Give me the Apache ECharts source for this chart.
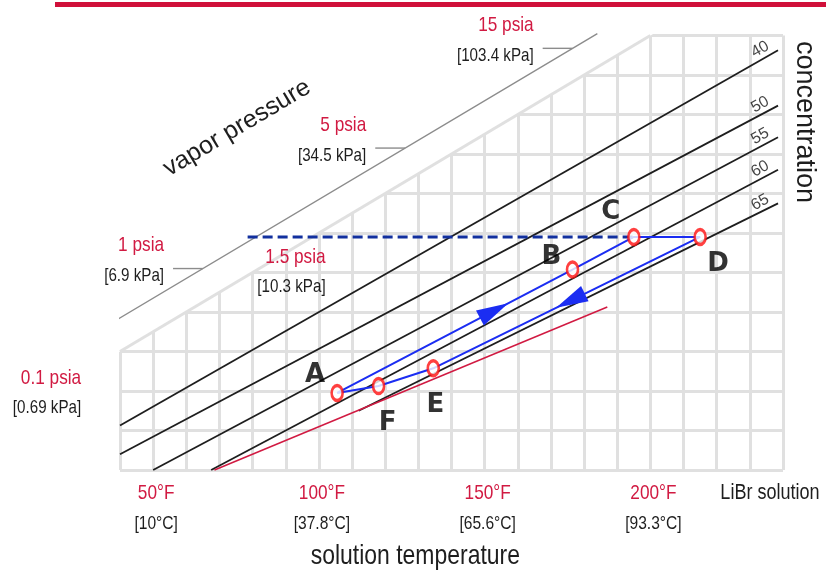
<!DOCTYPE html>
<html>
<head>
<meta charset="utf-8">
<script src="https://cdn.jsdelivr.net/npm/echarts@6/dist/echarts.min.js"></script>
<style>
  html, body { margin: 0; padding: 0; background: #fff; }
  #chart { width: 826px; height: 575px; }
</style>
</head>
<body>
<div id="chart"></div>
<script>
// Solution temperature axis (°F) with Celsius equivalents
const tempTicks = [50, 100, 150, 200];
const tempLabelsF = ['50°F', '100°F', '150°F', '200°F'];
const tempLabelsC = ['[10°C]', '[37.8°C]', '[65.6°C]', '[93.3°C]'];

// Vapor pressure scale, placed at the matching saturation temperature (°F)
const pressurePsia = ['0.1 psia', '1 psia', '5 psia', '15 psia'];
const pressureKpa = ['[0.69 kPa]', '[6.9 kPa]', '[34.5 kPa]', '[103.4 kPa]'];
const pressureSatF = [35, 102, 163, 213.5];

// Generator pressure level
const genPsia = '1.5 psia';
const genKpa = '[10.3 kPa]';
const genSatF = 118;

// Concentration lines (% LiBr): [solution °F, saturation °F] end points
const concNames = ['40', '50', '55', '60', '65'];
const concStart = [[40, 22.5], [40, 8], [50, 0], [67.5, 0], [112, 30]];
const concEnd = [[238.5, 212.5], [238.5, 184.5], [238.5, 168.5], [238.5, 152], [238.5, 135]];

// Crystallization limit
const crystLine = [[68.5, 0], [187, 82.5]];

// Absorption cycle state points
const cycleNames = ['A', 'B', 'C', 'D', 'E', 'F'];
const cycleX = [105.5, 176.5, 195, 215, 134.5, 118];
const cycleY = [39, 101.5, 118, 118, 51.5, 42.5];

// Flow direction arrows: [from point, to point, position along the leg]
const flowArrows = [[0, 1, 0.667], [3, 4, 0.486]];

// ---- drawing ----
const RED = '#d11a42';
const INK = '#1e1e1e';
const BLUE = '#1b2df2';
const NAVY = '#12309e';
const GRIDC = '#e0e0e0';
const SANS = "'Liberation Sans', Arial, sans-serif";
const CONDENSE = 0.82;   // horizontal squeeze for the narrow label face

// Vapor pressure frame: vertical foot, then a 45° rise (in axis units)
const frameX = 34, frameFoot = 1.5, frameKnee = 71, frameTopY = 221;
const frameXAt = y => (y <= frameKnee ? frameX : y - (frameKnee - frameX));
const tickLenAt = y => (y <= frameKnee ? 3 : 9);
// Grid is cut off above the line sat = sol + gridCut
const gridCut = 20;

const pt = i => [cycleX[i], cycleY[i]];
const cyclePath = cycleNames.map((_, i) => pt(i)).concat([pt(0)]);

const labelShift = { A: [-22, -18], B: [-21, -12], C: [-23, -25], D: [18, 27], E: [2, 37], F: [9, 37] };

const lineSeries = (data, style, z) => ({
  type: 'line', data, symbol: 'none', silent: true, clip: false,
  lineStyle: style, z: z || 3, animation: false
});

const series = [];

// white mask that trims the grid's upper-left corner
series.push({
  type: 'custom', coordinateSystem: 'cartesian2d', clip: false, silent: true, z: 1,
  data: [0],
  renderItem: (params, api) => {
    const pts = [[36, 36 + gridCut], [206, 206 + gridCut], [36, 206 + gridCut]].map(p => api.coord(p));
    return { type: 'polygon', shape: { points: pts }, style: { fill: '#fff' } };
  }
});
// trimmed edge of the grid
series.push(lineSeries([[40, 40 + gridCut], [200, 200 + gridCut]], { color: GRIDC, width: 3 }, 2));

// concentration lines
concNames.forEach((n, i) => {
  series.push(lineSeries([concStart[i], concEnd[i]], { color: INK, width: 1.8 }, 3));
});
// crystallization line
series.push(lineSeries(crystLine, { color: RED, width: 1.5 }, 3));

// vapor pressure frame and its ticks
series.push(lineSeries([[frameX, frameFoot], [frameX, frameKnee], [frameTopY - (frameKnee - frameX), frameTopY]],
  { color: '#8c8c8c', width: 1.4 }, 3));
pressureSatF.forEach(s => {
  const x1 = frameXAt(s);
  series.push(lineSeries([[x1 - tickLenAt(s), s], [x1, s]], { color: '#8c8c8c', width: 1.4 }, 3));
});

// generator pressure (dashed)
const genStart = [frameXAt(genSatF) - 2.5, genSatF];
series.push(lineSeries([genStart, pt(2)], { color: NAVY, width: 3, type: [10, 5] }, 4));

// cycle path
series.push(lineSeries(cyclePath, { color: BLUE, width: 2 }, 5));

// flow arrows
series.push({
  type: 'custom', coordinateSystem: 'cartesian2d', clip: false, silent: true, z: 6,
  data: flowArrows.map((_, i) => i),
  renderItem: (params, api) => {
    const a = flowArrows[params.dataIndex];
    const p0 = api.coord(pt(a[0])), p1 = api.coord(pt(a[1]));
    const dx = p1[0] - p0[0], dy = p1[1] - p0[1];
    const len = Math.hypot(dx, dy), ux = dx / len, uy = dy / len;
    const cx = p0[0] + dx * a[2], cy = p0[1] + dy * a[2];
    const L = 32, W = 17;
    const bx = cx - ux * L / 2, by = cy - uy * L / 2;
    const nx = -uy, ny = ux;
    return {
      type: 'polygon',
      shape: { points: [[cx + ux * L / 2, cy + uy * L / 2], [bx + nx * W / 2, by + ny * W / 2], [bx - nx * W / 2, by - ny * W / 2]] },
      style: { fill: BLUE }
    };
  }
});

// state point markers
series.push({
  type: 'scatter', silent: true, z: 7, animation: false,
  symbol: 'circle', symbolSize: [11, 15],
  itemStyle: { color: '#fff', borderColor: '#ff1010', borderWidth: 3 },
  data: cycleNames.map((n, i) => pt(i))
});
// state point letters
series.push({
  type: 'scatter', silent: true, z: 8, animation: false, symbolSize: 0,
  data: cycleNames.map((n, i) => ({
    value: pt(i), name: n,
    label: { position: labelShift[n] }
  })),
  label: {
    show: true, formatter: p => p.name, align: 'center', verticalAlign: 'middle',
    fontFamily: "'DejaVu Sans', sans-serif", fontWeight: 'bold', fontSize: 26, color: '#000'
  }
});
// concentration labels
series.push({
  type: 'scatter', silent: true, z: 8, animation: false, symbolSize: 0,
  data: concNames.map((n, i) => ({ value: concEnd[i], name: n })),
  label: {
    show: true, formatter: p => p.name, position: [-18, -1], rotate: 29,
    align: 'center', verticalAlign: 'middle', fontFamily: SANS, fontSize: 16, color: '#111'
  }
});

const chart = echarts.init(document.getElementById('chart'), null, { renderer: 'canvas' });

const titles = [
  { type: 'rect', left: 55, top: 2, z: 100, shape: { width: 771, height: 5 }, style: { fill: '#d0103a' }, silent: true },
  { type: 'text', x: 237, y: 128, rotation: 0.537, z: 100, silent: true,
    style: { text: 'vapor pressure', fill: INK, font: '25px ' + SANS, align: 'center', verticalAlign: 'middle' } },
  { type: 'text', x: 804, y: 122, rotation: -Math.PI / 2, z: 100, silent: true,
    style: { text: 'concentration', fill: INK, font: '27px ' + SANS, align: 'center', verticalAlign: 'middle' } }
];

chart.setOption({
  animation: false,
  backgroundColor: '#fff',
  grid: { left: 120, right: 43, top: 35.5, bottom: 105, containLabel: false },
  xAxis: {
    type: 'value', min: 40, max: 240, interval: 10,
    axisLine: { show: false }, axisTick: { show: false }, axisLabel: { show: false },
    splitLine: { show: true, lineStyle: { color: GRIDC, width: 3 } }
  },
  yAxis: {
    type: 'value', min: 0, max: 220, interval: 20,
    axisLine: { show: false }, axisTick: { show: false }, axisLabel: { show: false },
    splitLine: { show: true, lineStyle: { color: GRIDC, width: 3 } }
  },
  graphic: titles,
  series
});

// Narrow-face labels, placed through the chart's own axis scales
const toPx = p => chart.convertToPixel({ xAxisIndex: 0, yAxisIndex: 0 }, p);
const narrow = (x, y, text, size, color, align) => ({
  type: 'text', x, y, scaleX: CONDENSE, z: 100, silent: true,
  style: { text, font: size + 'px ' + SANS, fill: color, align: align || 'center', verticalAlign: 'middle' }
});
const labels = [];
tempTicks.forEach((v, i) => {
  const p = toPx([v, 0]);
  labels.push(narrow(p[0] + 3, p[1] + 23, tempLabelsF[i], 21, RED));
  labels.push(narrow(p[0] + 3, p[1] + 54, tempLabelsC[i], 19, INK));
});
pressureSatF.forEach((s, i) => {
  const p = toPx([frameXAt(s) - tickLenAt(s), s]);
  labels.push(narrow(p[0] - 9, p[1] - 23, pressurePsia[i], 21, RED, 'right'));
  labels.push(narrow(p[0] - 9, p[1] + 7.5, pressureKpa[i], 18.5, INK, 'right'));
});
{
  const p = toPx(genStart);
  labels.push(narrow(p[0] + 78, p[1] + 20, genPsia, 21, RED, 'right'));
  labels.push(narrow(p[0] + 78, p[1] + 50, genKpa, 18.5, INK, 'right'));
}
{
  const xEnd = toPx([240, 0]);
  labels.push(narrow(xEnd[0] - 13, xEnd[1] + 23, 'LiBr solution', 22, INK));
  const mid = toPx([130, 0]);
  labels.push(narrow(mid[0] - 3, mid[1] + 86, 'solution temperature', 28, INK));
}
chart.setOption({ graphic: titles.concat(labels) });
</script>
</body>
</html>
